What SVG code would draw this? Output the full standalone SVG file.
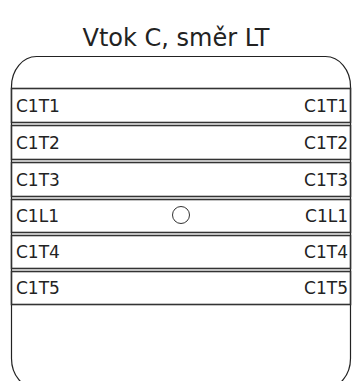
<svg xmlns="http://www.w3.org/2000/svg" width="353" height="381" viewBox="0 0 353 381">
<style>
.title{font-family:"DejaVu Sans",Verdana,sans-serif;font-size:24px;fill:#222;text-anchor:middle}
.lbl{font-family:"DejaVu Sans",Verdana,sans-serif;font-size:17px;fill:#222}
.r{text-anchor:end}
.row{fill:#fff;stroke:#333;stroke-width:1.6}
.outer{fill:#fff;stroke:#222;stroke-width:1.2}
</style>
<rect width="353" height="381" fill="#fff"/>
<text class="title" x="176" y="46">Vtok C, směr LT</text>
<g id="frame">
<rect class="outer" x="11.5" y="56.5" width="339" height="332" rx="25" ry="30"/>
</g>
<g id="row-C1T1">
<rect class="row" x="11.5" y="88.5" width="339" height="34"/>
<text class="lbl" x="16" y="112">C1T1</text>
<text class="lbl r" x="348" y="112">C1T1</text>
</g>
<g id="row-C1T2">
<rect class="row" x="11.5" y="125.5" width="339" height="34"/>
<text class="lbl" x="16" y="149">C1T2</text>
<text class="lbl r" x="348" y="149">C1T2</text>
</g>
<g id="row-C1T3">
<rect class="row" x="11.5" y="162.5" width="339" height="34"/>
<text class="lbl" x="16" y="186">C1T3</text>
<text class="lbl r" x="348" y="186">C1T3</text>
</g>
<g id="row-C1L1">
<rect class="row" x="11.5" y="199.5" width="339" height="33"/>
<text class="lbl" x="16" y="222">C1L1</text>
<text class="lbl r" x="348" y="222">C1L1</text>
<circle cx="181" cy="215" r="8.5" fill="#fff" stroke="#333" stroke-width="1"/>
</g>
<g id="row-C1T4">
<rect class="row" x="11.5" y="235.5" width="339" height="33"/>
<text class="lbl" x="16" y="258">C1T4</text>
<text class="lbl r" x="348" y="258">C1T4</text>
</g>
<g id="row-C1T5">
<rect class="row" x="11.5" y="271.5" width="339" height="33"/>
<text class="lbl" x="16" y="294">C1T5</text>
<text class="lbl r" x="348" y="294">C1T5</text>
</g>
<g id="connectors"></g>
</svg>
